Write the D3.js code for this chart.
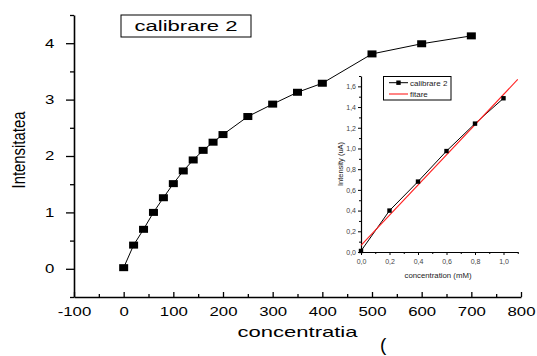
<!DOCTYPE html>
<html>
<head>
<meta charset="utf-8">
<script src="https://cdn.jsdelivr.net/npm/d3@7"></script>
<style>
  body { margin: 0; background: #fff; }
  text { font-family: "Liberation Sans", Arial, sans-serif; }
</style>
</head>
<body>
<svg id="chart" width="537" height="356"></svg>
<script>
// main curve
const concentratia = [0, 20, 40, 60, 80, 100, 120, 140, 160, 180, 200, 250, 300, 350, 400, 500, 600, 700];
const intensitatea = [0.02, 0.42, 0.70, 1.00, 1.26, 1.51, 1.735, 1.93, 2.10, 2.245, 2.38, 2.70, 2.92, 3.13, 3.29, 3.81, 3.99, 4.13];
const xTicks = [-100, 0, 100, 200, 300, 400, 500, 600, 700, 800];
const xMinor = [-50, 50, 150, 250, 350, 450, 550, 650, 750];
const yTicks = [0, 1, 2, 3, 4];
const yMinor = [-0.5, 0.5, 1.5, 2.5, 3.5, 4.5];

// inset
const insetConc = [0, 0.2, 0.4, 0.6, 0.8, 1.0];
const insetInt = [0.01, 0.40, 0.68, 0.975, 1.24, 1.485];
const fitConc = [0, 1.1];
const fitInt = [0.065, 1.667];
const insetXTicks = [0, 0.2, 0.4, 0.6, 0.8, 1.0];
const insetXMinor = [0.1, 0.3, 0.5, 0.7, 0.9, 1.1];
const insetYTicks = [0, 0.2, 0.4, 0.6, 0.8, 1.0, 1.2, 1.4, 1.6];
const insetYMinor = [0.1, 0.3, 0.5, 0.7, 0.9, 1.1, 1.3, 1.5, 1.7];

const svg = d3.select("#chart");

// ---- main chart ----
const x = d3.scaleLinear().domain([-100, 800]).range([74, 521]);
const y = d3.scaleLinear().domain([-0.5, 4.5]).range([297, 15]);
const plain = d => String(d);

const gx = svg.append("g").attr("transform", "translate(0,297)")
  .call(d3.axisBottom(x).tickValues(xTicks).tickSize(-5).tickSizeOuter(0).tickFormat(plain));
gx.selectAll("text")
  .attr("y", 19).attr("dy", null)
  .attr("font-size", 12).attr("fill", "#000")
  .attr("transform", "scale(1.4,1)");
svg.append("g").attr("transform", "translate(0,297)")
  .call(d3.axisBottom(x).tickValues(xMinor).tickSize(-3).tickFormat(""))
  .select(".domain").remove();

const gy = svg.append("g").attr("transform", "translate(74,0)")
  .call(d3.axisLeft(y).tickValues(yTicks).tickSize(8).tickSizeOuter(0).tickFormat(plain));
gy.selectAll("text")
  .attr("x", -14)
  .attr("font-size", 12).attr("fill", "#000")
  .attr("transform", "scale(1.4,1)");
svg.append("g").attr("transform", "translate(74,0)")
  .call(d3.axisLeft(y).tickValues(yMinor).tickSize(4).tickFormat(""))
  .select(".domain").remove();

svg.selectAll(".domain").attr("stroke-width", 1.6);
svg.selectAll(".tick line").attr("stroke-width", 1.3);

const mainPts = concentratia.map((c, i) => [c, intensitatea[i]]);
svg.append("path")
  .attr("d", d3.line().x(d => x(d[0])).y(d => y(d[1]))(mainPts))
  .attr("fill", "none").attr("stroke", "#000").attr("stroke-width", 1);
svg.append("g").selectAll("rect")
  .data(mainPts).enter().append("rect")
  .attr("x", d => x(d[0]) - 4.5)
  .attr("y", d => y(d[1]) - 3.5)
  .attr("width", 9).attr("height", 7)
  .attr("fill", "#000");

// legend box
svg.append("rect").attr("x", 121).attr("y", 15).attr("width", 130).attr("height", 22)
  .attr("fill", "#fff").attr("stroke", "#000").attr("stroke-width", 1);
svg.append("text").attr("x", 186).attr("y", 31).attr("text-anchor", "middle")
  .attr("font-size", 14).attr("textLength", 103).attr("lengthAdjust", "spacingAndGlyphs")
  .text("calibrare 2");

// titles
svg.append("text").attr("x", 297.5).attr("y", 337).attr("text-anchor", "middle")
  .attr("font-size", 15).attr("textLength", 120).attr("lengthAdjust", "spacingAndGlyphs")
  .text("concentratia");
svg.append("text")
  .attr("transform", "translate(25,150) rotate(-90)")
  .attr("text-anchor", "middle")
  .style("font-family", "'Liberation Sans Narrow', 'Arial Narrow', 'Liberation Sans', sans-serif")
  .attr("font-size", 18).attr("textLength", 77).attr("lengthAdjust", "spacingAndGlyphs")
  .text("Intensitatea");
svg.append("text").attr("x", 380).attr("y", 351).attr("font-size", 19).text("(");

// ---- inset ----
const ix = d3.scaleLinear().domain([0, 1.1]).range([361, 517.75]);
const iy = d3.scaleLinear().domain([0, 1.7]).range([252, 76]);
const fmt = d => d.toFixed(1).replace(".", ",");

const igx = svg.append("g").attr("transform", "translate(0,252)")
  .call(d3.axisBottom(ix).tickValues(insetXTicks).tickSize(3).tickSizeOuter(0).tickFormat(fmt));
igx.selectAll("text").attr("font-size", 7).attr("fill", "#444").attr("y", 7);
svg.append("g").attr("transform", "translate(0,252)")
  .call(d3.axisBottom(ix).tickValues(insetXMinor).tickSize(2).tickFormat(""))
  .select(".domain").remove();

const igy = svg.append("g").attr("transform", "translate(361,0)")
  .call(d3.axisLeft(iy).tickValues(insetYTicks).tickSize(3).tickSizeOuter(0).tickFormat(fmt));
igy.selectAll("text").attr("font-size", 7).attr("fill", "#444").attr("x", -5);
svg.append("g").attr("transform", "translate(361,0)")
  .call(d3.axisLeft(iy).tickValues(insetYMinor).tickSize(2).tickFormat(""))
  .select(".domain").remove();

igx.select(".domain").attr("stroke-width", 1.2);
igy.select(".domain").attr("stroke-width", 1.2);

const insetPts = insetConc.map((c, i) => [c, insetInt[i]]);
const fitPts = fitConc.map((c, i) => [c, fitInt[i]]);
const iline = d3.line().x(d => ix(d[0])).y(d => iy(d[1]));
svg.append("path").attr("d", iline(insetPts))
  .attr("fill", "none").attr("stroke", "#000").attr("stroke-width", 1);
svg.append("path").attr("d", iline(fitPts))
  .attr("fill", "none").attr("stroke", "#ff2020").attr("stroke-width", 1.1);
svg.append("g").selectAll("rect")
  .data(insetPts).enter().append("rect")
  .attr("x", d => ix(d[0]) - 2.2)
  .attr("y", d => iy(d[1]) - 2.2)
  .attr("width", 4.4).attr("height", 4.4)
  .attr("fill", "#000");

// inset legend
svg.append("rect").attr("x", 383.5).attr("y", 76.5).attr("width", 67.5).attr("height", 23.5)
  .attr("fill", "#fff").attr("stroke", "#000").attr("stroke-width", 1);
svg.append("line").attr("x1", 389).attr("x2", 408).attr("y1", 82.7).attr("y2", 82.7)
  .attr("stroke", "#000").attr("stroke-width", 1);
svg.append("rect").attr("x", 396.3).attr("y", 80.5).attr("width", 4.4).attr("height", 4.4).attr("fill", "#000");
svg.append("line").attr("x1", 389).attr("x2", 408).attr("y1", 94).attr("y2", 94)
  .attr("stroke", "#ff2020").attr("stroke-width", 1.1);
svg.append("text").attr("x", 410).attr("y", 85.5).attr("font-size", 8).attr("fill", "#222").text("calibrare 2");
svg.append("text").attr("x", 410).attr("y", 97).attr("font-size", 8).attr("fill", "#222").text("fitare");

// inset titles
svg.append("text").attr("x", 438).attr("y", 278).attr("text-anchor", "middle")
  .attr("font-size", 7.5).attr("fill", "#222").attr("textLength", 67).attr("lengthAdjust", "spacingAndGlyphs")
  .text("concentration (mM)");
svg.append("text")
  .attr("transform", "translate(343,164) rotate(-90)")
  .attr("text-anchor", "middle")
  .attr("font-size", 7.5).attr("fill", "#222")
  .text("Intensity (uA)");
</script>
</body>
</html>
